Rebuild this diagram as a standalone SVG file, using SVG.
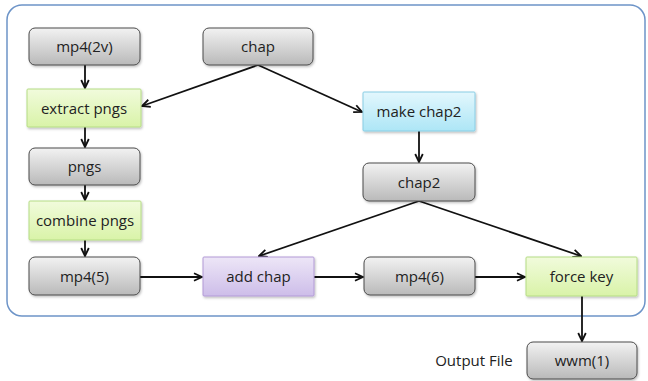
<svg xmlns="http://www.w3.org/2000/svg" width="648" height="381" viewBox="0 0 648 381">
  <defs>
    <linearGradient id="gGray" x1="0" y1="0" x2="0" y2="1">
      <stop offset="0" stop-color="#f2f2f2"/>
      <stop offset="1" stop-color="#b9b9b9"/>
    </linearGradient>
    <linearGradient id="gGreen" x1="0" y1="0" x2="0" y2="1">
      <stop offset="0" stop-color="#f1fbdc"/>
      <stop offset="1" stop-color="#d9f3a8"/>
    </linearGradient>
    <linearGradient id="gCyan" x1="0" y1="0" x2="0" y2="1">
      <stop offset="0" stop-color="#e3f7fd"/>
      <stop offset="1" stop-color="#ade6f6"/>
    </linearGradient>
    <linearGradient id="gPurple" x1="0" y1="0" x2="0" y2="1">
      <stop offset="0" stop-color="#ede6f7"/>
      <stop offset="1" stop-color="#cdbde9"/>
    </linearGradient>
    <marker id="arr" viewBox="0 0 10 10" refX="9" refY="5" markerWidth="10" markerHeight="10" markerUnits="userSpaceOnUse" orient="auto">
      <path d="M1,1.2 L9,5 L1,8.8" fill="none" stroke="#111" stroke-width="1.8"/>
    </marker>
    <filter id="sh" x="-10%" y="-10%" width="130%" height="140%">
      <feDropShadow dx="1" dy="1.5" stdDeviation="1" flood-color="#000" flood-opacity="0.25"/>
    </filter>
  </defs>
  <style>
    .data { fill: url(#gGray); stroke: #4a4a4a; stroke-width: 1; filter: url(#sh); }
    .green { fill: url(#gGreen); stroke: #b5dc84; stroke-width: 1; filter: url(#sh); }
    .cyan { fill: url(#gCyan); stroke: #88cde4; stroke-width: 1; filter: url(#sh); }
    .purple { fill: url(#gPurple); stroke: #b29ad6; stroke-width: 1; filter: url(#sh); }
    text { font-family: "Open Sans", "Noto Sans", sans-serif; font-size: 15px; fill: #222; text-anchor: middle; dominant-baseline: central; }
    .conn path { fill: none; stroke: #111; stroke-width: 1.8; marker-end: url(#arr); }
  </style>

  <rect width="648" height="381" fill="#fff"/>
  <!-- outer frame -->
  <rect x="7" y="5" width="638" height="311" rx="15" ry="15" fill="none" stroke="#6d94c8" stroke-width="1.5"/>

  <g class="conn">
    <path d="M85,65 L85,88"/>
    <path d="M258,65 L142,106"/>
    <path d="M258,65 L362,112"/>
    <path d="M85,127 L85,147"/>
    <path d="M85,185 L85,200"/>
    <path d="M85,240 L85,256"/>
    <path d="M140,277 L202,277"/>
    <path d="M419,131 L419,162"/>
    <path d="M419,201 L259,256"/>
    <path d="M419,201 L581,256"/>
    <path d="M314,277 L363,277"/>
    <path d="M475,277 L525,277"/>
    <path d="M582,296 L582,341"/>
  </g>

  <g id="mp4-2v">
    <rect class="data" x="29" y="28" width="111" height="37" rx="6"/>
    <text x="84.5" y="46">mp4(2v)</text>
  </g>
  <g id="chap">
    <rect class="data" x="203" y="28" width="110" height="37" rx="6"/>
    <text x="258" y="46">chap</text>
  </g>
  <g id="extract-pngs">
    <rect class="green" x="27" y="89" width="114" height="38" rx="1"/>
    <text x="84" y="107.5">extract pngs</text>
  </g>
  <g id="pngs">
    <rect class="data" x="29" y="148" width="111" height="37" rx="6"/>
    <text x="84.5" y="166">pngs</text>
  </g>
  <g id="combine-pngs">
    <rect class="green" x="29" y="201" width="112" height="39" rx="1"/>
    <text x="85" y="220">combine pngs</text>
  </g>
  <g id="mp4-5">
    <rect class="data" x="29" y="257" width="111" height="38" rx="6"/>
    <text x="84.5" y="275.5">mp4(5)</text>
  </g>
  <g id="add-chap">
    <rect class="purple" x="203" y="257" width="111" height="39" rx="1"/>
    <text x="258.5" y="276">add chap</text>
  </g>
  <g id="make-chap2">
    <rect class="cyan" x="363" y="92" width="112" height="39" rx="1"/>
    <text x="419" y="111">make chap2</text>
  </g>
  <g id="chap2">
    <rect class="data" x="363" y="163" width="112" height="38" rx="6"/>
    <text x="419" y="181.5">chap2</text>
  </g>
  <g id="mp4-6">
    <rect class="data" x="364" y="257" width="111" height="38" rx="6"/>
    <text x="419.5" y="275.5">mp4(6)</text>
  </g>
  <g id="force-key">
    <rect class="green" x="526" y="257" width="111" height="39" rx="1"/>
    <text x="581.5" y="276">force key</text>
  </g>
  <g id="wwm-1">
    <rect class="data" x="527" y="342" width="110" height="37" rx="6"/>
    <text x="582" y="360">wwm(1)</text>
  </g>
  <text x="474" y="360">Output File</text>
</svg>
